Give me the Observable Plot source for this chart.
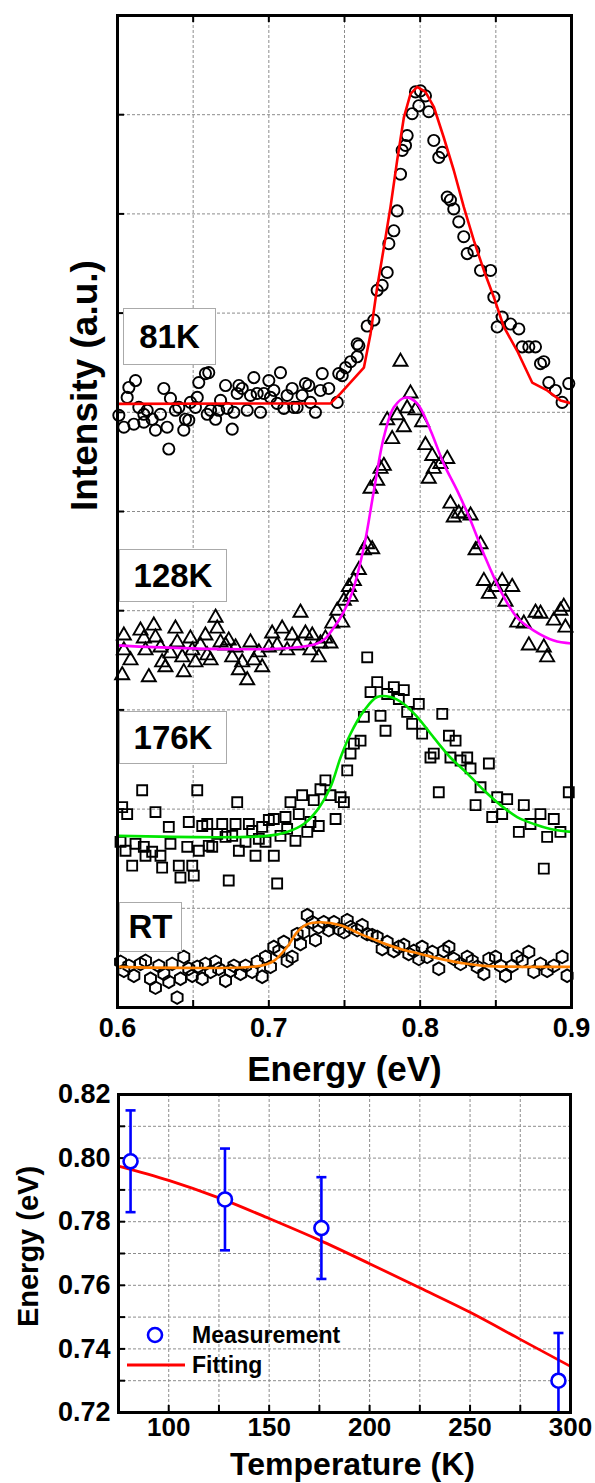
<!DOCTYPE html>
<html><head><meta charset="utf-8">
<script src="https://cdn.jsdelivr.net/npm/d3@7"></script>
<script src="https://cdn.jsdelivr.net/npm/@observablehq/plot@0.6"></script>
<style>
body{margin:0;background:#fff;}
#wrap{position:relative;width:595px;height:1483px;font-family:"Liberation Sans",Arial,Helvetica,sans-serif;overflow:hidden;}
#wrap svg.plt{position:absolute;left:0;}
.lbl{position:absolute;background:#fff;border:1.5px solid #aaa;font-weight:bold;font-size:33px;display:flex;align-items:center;justify-content:center;box-sizing:border-box;color:#000;}
.leg{position:absolute;left:126px;font-weight:bold;font-size:23px;color:#000;}
.leg div{display:flex;align-items:center;height:30px;}
.leg svg{margin-right:6px;}
</style></head><body><div id="wrap"></div>
<script>
// ---------- Top panel: PL spectra (intensity in arbitrary units, stacked) ----------
const energyTicks = [0.6, 0.7, 0.8, 0.9];
const energyGrid = [0.65, 0.7, 0.75, 0.8, 0.85];
const intensityGrid = [1, 2, 3, 4, 5, 6, 7, 8, 9];
const seriesLabels = ["81K", "128K", "176K", "RT"];

const e81 = [0.6009,0.6042,0.6064,0.6075,0.6119,0.6108,0.6141,0.6174,0.6174,0.6196,0.6229,0.6251,0.6284,0.6306,0.6328,0.6339,0.6350,0.6383,0.6405,0.6438,0.6449,0.6471,0.6482,0.6515,0.6527,0.6537,0.6581,0.6603,0.6593,0.6615,0.6648,0.6669,0.6681,0.6714,0.6725,0.6758,0.6769,0.6791,0.6802,0.6824,0.6857,0.6879,0.6901,0.6923,0.6945,0.6967,0.7000,0.7011,0.7033,0.7055,0.7077,0.7099,0.7121,0.7154,0.7165,0.7187,0.7220,0.7242,0.7264,0.7275,0.7308,0.7341,0.7353,0.7396,0.7452,0.7462,0.7485,0.7507,0.7540,0.7584,0.7584,
 0.7595,0.7650,0.7694,0.7716,0.7749,0.7782,0.7793,0.7826,0.7848,0.7870,0.7881,0.7903,0.7914,0.7947,0.7969,0.8002,0.8035,0.7991,0.8057,0.8090,0.8146,0.8123,0.8179,0.8200,0.8222,0.8255,0.8288,0.8311,0.8355,0.8399,0.8465,0.8487,0.8509,0.8542,0.8597,0.8652,0.8674,0.8718,0.8762,0.8795,0.8817,0.8850,0.8894,0.8938,0.8982];
const i81 = [5.97,5.85,6.15,6.25,6.32,5.88,6.05,5.98,5.90,6.02,5.93,5.82,5.98,6.24,5.85,5.63,6.14,6.02,6.05,5.82,5.93,5.92,6.10,6.05,6.15,6.30,6.39,6.40,5.98,6.02,5.93,6.02,6.12,6.27,6.04,5.83,6.00,6.19,6.27,6.24,6.02,6.17,6.35,6.19,6.00,6.19,6.32,6.15,6.22,6.09,6.40,6.04,6.17,6.24,6.05,6.05,6.17,6.29,6.27,6.10,6.00,6.22,6.39,6.24,6.10,6.39,6.37,6.45,6.51,6.56,6.69,
 6.67,6.87,6.93,7.23,7.28,7.41,7.70,7.83,8.03,8.40,8.64,8.69,8.79,9.01,9.23,9.24,9.19,9.09,9.03,8.74,8.62,8.57,8.17,8.14,8.05,7.92,7.77,7.60,7.63,7.43,7.43,7.16,6.86,6.96,6.89,6.84,6.66,6.66,6.66,6.49,6.51,6.30,6.22,6.10,6.29];
const fitE81 = [0.6,0.7408,0.7474,0.7628,0.7672,0.7716,0.7760,0.7804,0.7848,0.7892,0.7936,0.7980,0.8035,0.8090,0.8156,0.8222,0.8288,0.8355,0.8421,0.8487,0.8553,0.8641,0.8740,0.8839,0.8927,0.9];
const fitI81 = [6.085,6.09,6.19,6.45,6.79,7.26,7.66,8.07,8.54,8.97,9.21,9.28,9.23,9.08,8.77,8.44,8.07,7.73,7.43,7.16,6.86,6.62,6.30,6.22,6.12,6.09];

const e128 = [0.6042,0.6042,0.6031,0.6086,0.6152,0.6174,0.6185,0.6207,0.6240,0.6251,0.6284,0.6295,0.6317,0.6350,0.6383,0.6395,0.6428,0.6438,0.6482,0.6494,0.6515,0.6548,0.6581,0.6593,0.6615,0.6648,0.6659,0.6681,0.6714,0.6735,0.6758,0.6780,0.6802,0.6824,0.6857,0.6879,0.6901,0.6934,0.6956,0.7000,0.7022,0.7055,0.7088,0.7121,0.7154,0.7187,0.7209,0.7242,0.7275,0.7287,0.7330,0.7341,0.7374,0.7407,0.7419,0.7452,0.7485,0.7496,0.7529,
 0.7540,0.7562,0.7595,0.7628,0.7650,0.7683,0.7672,0.7716,0.7738,0.7760,0.7782,0.7815,0.7848,0.7870,0.7892,0.7914,0.7936,0.7969,0.8013,0.8035,0.8080,0.8090,0.8057,0.8134,0.8179,0.8200,0.8222,0.8255,0.8288,0.8333,0.8366,0.8399,0.8421,0.8454,0.8498,0.8542,0.8564,0.8608,0.8641,0.8685,0.8718,0.8762,0.8795,0.8817,0.8839,0.8883,0.8927,0.8949,0.8960];
const i128 = [3.75,3.60,3.35,3.50,3.80,3.72,3.60,3.33,3.85,3.73,3.63,3.48,3.43,3.57,3.82,3.68,3.53,3.38,3.72,3.60,3.48,3.65,3.75,3.55,3.50,3.93,3.82,3.68,3.65,3.70,3.53,3.63,3.40,3.48,3.30,3.68,3.50,3.58,3.43,3.63,3.77,3.65,3.82,3.60,3.75,3.65,3.98,3.77,3.60,3.75,3.53,3.67,3.72,3.67,3.87,4.00,3.88,4.10,4.24,
 4.14,4.30,4.41,4.61,4.67,4.62,5.23,5.31,5.43,5.46,5.92,5.73,5.97,6.51,5.85,6.04,6.19,6.02,5.90,5.67,5.56,5.43,5.33,5.48,5.53,5.08,4.94,4.98,4.98,4.96,4.61,4.67,4.30,4.17,4.24,4.30,4.09,4.24,3.88,3.87,3.65,3.98,3.97,3.63,3.53,3.90,4.00,4.04,3.83];
const fitE128 = [0.6,0.7320,0.7430,0.7540,0.7628,0.7694,0.7760,0.7826,0.7903,0.7980,0.8068,0.8156,0.8245,0.8333,0.8421,0.8531,0.8641,0.8751,0.8883,0.9];
const fitI128 = [3.65,3.67,3.83,4.14,4.64,5.21,5.75,6.05,6.15,6.09,5.82,5.48,5.21,4.91,4.57,4.20,3.93,3.80,3.70,3.67];

const e176 = [0.6031,0.6064,0.6163,0.6020,0.6053,0.6097,0.6119,0.6174,0.6185,0.6229,0.6251,0.6284,0.6295,0.6339,0.6350,0.6405,0.6416,0.6461,0.6471,0.6494,0.6504,0.6527,0.6537,0.6560,0.6593,0.6603,0.6626,0.6659,0.6692,0.6714,0.6735,0.6758,0.6780,0.6791,0.6802,0.6846,0.6868,0.6890,0.6912,0.6934,0.6956,0.6978,0.7000,0.7033,0.7055,0.7033,0.7077,0.7110,0.7121,0.7143,0.7176,0.7198,0.7220,0.7254,0.7275,0.7297,0.7330,0.7341,0.7374,0.7407,0.7441,0.7474,0.7496,0.7518,
 0.7540,0.7562,0.7606,0.7628,0.7650,0.7672,0.7716,0.7738,0.7771,0.7782,0.7826,0.7859,0.7892,0.7914,0.7947,0.7991,0.8013,0.8068,0.8090,0.8123,0.8146,0.8190,0.8200,0.8234,0.8267,0.8311,0.8333,0.8366,0.8399,0.8454,0.8476,0.8509,0.8542,0.8575,0.8652,0.8685,0.8729,0.8795,0.8817,0.8839,0.8883,0.8927,0.8982];
const i176 = [2.02,1.95,2.19,1.67,1.58,1.43,1.65,1.62,1.53,1.57,1.97,1.53,1.41,1.82,1.65,1.43,1.31,1.62,1.87,1.43,1.33,2.19,1.58,1.83,1.85,1.63,1.62,1.75,1.85,1.72,1.28,1.73,1.85,2.07,1.58,1.67,1.85,1.78,1.53,1.70,1.82,1.67,1.89,1.53,1.25,1.90,1.73,1.92,1.80,2.07,1.68,1.95,2.14,1.77,1.87,2.09,1.83,2.20,2.29,2.14,1.90,2.12,2.07,2.39,
 2.56,2.66,2.69,2.93,3.53,3.18,3.28,2.94,2.79,3.16,3.23,3.11,3.20,2.98,2.86,3.06,2.76,2.52,2.56,2.17,2.96,2.74,2.52,2.69,2.49,2.52,2.41,2.04,2.22,2.46,1.92,2.12,1.95,2.10,1.77,2.04,1.85,1.95,1.40,1.72,1.90,1.77,2.17];
const fitE176 = [0.6,0.6989,0.7121,0.7231,0.7320,0.7407,0.7474,0.7540,0.7628,0.7716,0.7804,0.7892,0.7980,0.8090,0.8200,0.8311,0.8421,0.8531,0.8641,0.8751,0.8861,0.9];
const fitI176 = [1.73,1.73,1.77,1.85,1.99,2.22,2.52,2.76,2.99,3.13,3.13,3.06,2.93,2.72,2.52,2.36,2.19,2.04,1.92,1.85,1.80,1.77];

const eRT = [0.6020,0.6042,0.6075,0.6108,0.6152,0.6185,0.6218,0.6251,0.6273,0.6306,0.6339,0.6361,0.6394,0.6416,0.6438,0.6471,0.6494,0.6527,0.6560,0.6581,0.6615,0.6648,0.6669,0.6714,0.6747,0.6769,0.6813,0.6846,0.6890,0.6923,0.6956,0.6978,0.7011,0.7033,0.7066,0.7099,0.7121,0.7154,0.7187,0.7209,0.7231,0.7254,0.7287,0.7308,0.7330,0.7363,0.7396,0.7430,0.7462,0.7496,0.7518,0.7540,0.7584,0.7617,0.7650,0.7683,0.7716,0.7749,0.7782,0.7826,0.7859,0.7892,0.7925,0.7958,0.7991,0.8013,0.8046,0.8080,0.8123,0.8156,0.8190,0.8222,0.8267,0.8311,0.8344,0.8377,0.8421,0.8454,0.8498,0.8531,0.8564,0.8608,0.8641,0.8674,0.8718,0.8751,0.8795,0.8839,0.8883,0.8938,0.8971];
const iRT = [0.46,0.37,0.42,0.32,0.44,0.47,0.29,0.20,0.42,0.34,0.26,0.44,0.10,0.29,0.51,0.39,0.32,0.41,0.29,0.44,0.36,0.46,0.39,0.27,0.37,0.42,0.34,0.42,0.36,0.46,0.31,0.51,0.41,0.61,0.57,0.66,0.47,0.51,0.74,0.64,0.76,0.93,0.86,0.68,0.81,0.86,0.78,0.86,0.79,0.76,0.88,0.81,0.78,0.83,0.74,0.73,0.71,0.59,0.66,0.57,0.61,0.63,0.54,0.57,0.49,0.61,0.51,0.56,0.39,0.57,0.61,0.49,0.44,0.51,0.47,0.41,0.34,0.49,0.51,0.42,0.32,0.42,0.51,0.47,0.56,0.36,0.44,0.37,0.42,0.51,0.32];
const fitERT = [0.6,0.6945,0.7033,0.7121,0.7187,0.7254,0.7341,0.7474,0.7606,0.7738,0.7870,0.8002,0.8134,0.8267,0.8421,0.9];
const fitIRT = [0.41,0.42,0.47,0.61,0.76,0.84,0.86,0.83,0.74,0.66,0.59,0.54,0.49,0.45,0.42,0.41];

// ---------- Bottom panel: peak energy vs temperature ----------
const tempTicks = [100, 150, 200, 250, 300];
const tempGrid = [100, 125, 150, 175, 200, 225, 250, 275];
const peTicks = [0.72, 0.74, 0.76, 0.78, 0.80, 0.82];
const peGrid = [0.73, 0.74, 0.75, 0.76, 0.77, 0.78, 0.79, 0.80, 0.81];
const measT = [81, 128, 176, 294];
const measE = [0.799, 0.787, 0.778, 0.730];
const measErr = [0.016, 0.016, 0.016, 0.015];
const fitT = [75, 100, 125, 150, 175, 200, 225, 250, 275, 300];
const fitPE = [0.7975, 0.7930, 0.7875, 0.7810, 0.7742, 0.7668, 0.7592, 0.7515, 0.7430, 0.7345];

// ---------- build ----------
const zip = (xs, ys) => xs.map((x, k) => ({x, y: ys[k]}));
const FONT = "'Liberation Sans', Arial, Helvetica, sans-serif";
const gridStyle = {stroke: "#8c8c8c", strokeOpacity: 1, strokeWidth: 1, strokeDasharray: "3,2"};
const scatter = (xs, ys, symbol, r) => Plot.dot(zip(xs, ys), {x: "x", y: "y", symbol, r, stroke: "#000", strokeWidth: 1.9, fill: "none"});
const fitLine = (xs, ys, color, curve) => Plot.line(zip(xs, ys), {x: "x", y: "y", stroke: color, strokeWidth: 2.6, curve});

const W = 595;
const topH = 1100, tMT = 15, tMB = 93, tML = 117, tMR = 24;
const tFH = topH - tMT - tMB, tFW = W - tML - tMR;
const topPlot = Plot.plot({
  width: W, height: topH,
  marginTop: tMT, marginBottom: tMB, marginLeft: tML, marginRight: tMR,
  style: {background: "transparent", fontFamily: FONT, fontSize: "27px", fontWeight: "bold", color: "#000", overflow: "visible"},
  x: {domain: [0.6, 0.9], axis: null},
  y: {domain: [0, 10], axis: null},
  marks: [
    Plot.gridX(energyGrid, gridStyle),
    Plot.gridY(intensityGrid, gridStyle),
    Plot.tickX(energyGrid, {x: d => d, insetTop: tFH - 7, strokeWidth: 2}),
    Plot.tickX(energyGrid, {x: d => d, insetBottom: tFH - 7, strokeWidth: 2}),
    Plot.tickY(intensityGrid, {y: d => d, insetRight: tFW - 7, strokeWidth: 2}),
    scatter(eRT, iRT, "hexagon", 5.5),
    scatter(e176, i176, "square", 5.6),
    scatter(e128, i128, "triangle", 5.2),
    scatter(e81, i81, "circle", 5.6),
    fitLine(fitERT, fitIRT, "#ff8000", "catmull-rom"),
    fitLine(fitE176, fitI176, "#00e600", "catmull-rom"),
    fitLine(fitE128, fitI128, "#ff00ff", "catmull-rom"),
    fitLine(fitE81, fitI81, "#ff0000", "linear"),
    Plot.frame({stroke: "#000", strokeWidth: 3}),
    Plot.axisX({ticks: energyTicks, tickSize: 0, tickPadding: 10, tickFormat: d3.format(".1f"), label: null, fontSize: 27}),
    Plot.text(["Energy (eV)"], {text: d => d, frameAnchor: "bottom", textAnchor: "middle", lineAnchor: "middle", dy: 62, fontSize: 35, fontWeight: "bold"}),
    Plot.text(["Intensity (a.u.)"], {text: d => d, frameAnchor: "left", textAnchor: "middle", lineAnchor: "middle", dx: -32, dy: -126, rotate: -90, fontSize: 37, fontWeight: "bold"})
  ]
});
topPlot.classList.add("plt");
topPlot.style.top = "0px";

const botTop = 1070, botH = 413, bMT = 24, bMB = 71, bML = 118, bMR = 25;
const bFH = botH - bMT - bMB, bFW = W - bML - bMR;
const meas = measT.map((T, k) => ({T, E: measE[k], err: measErr[k]}));
const botPlot = Plot.plot({
  width: W, height: botH,
  marginTop: bMT, marginBottom: bMB, marginLeft: bML, marginRight: bMR,
  style: {background: "transparent", fontFamily: FONT, fontSize: "27px", fontWeight: "bold", color: "#000", overflow: "visible"},
  x: {domain: [75, 300], axis: null},
  y: {domain: [0.72, 0.82], axis: null},
  marks: [
    Plot.gridX(tempGrid, gridStyle),
    Plot.gridY(peGrid, gridStyle),
    Plot.tickX(tempGrid, {x: d => d, insetTop: bFH - 7, strokeWidth: 2}),
    Plot.tickY(peGrid, {y: d => d, insetRight: bFW - 7, strokeWidth: 2}),
    Plot.line(zip(fitT, fitPE), {x: "x", y: "y", stroke: "#ff0000", strokeWidth: 2.8, curve: "catmull-rom"}),
    Plot.ruleX(meas, {x: "T", y1: d => d.E - d.err, y2: d => d.E + d.err, stroke: "#0000ff", strokeWidth: 2.6, clip: true}),
    Plot.link(meas, {x1: d => d.T - 2.5, x2: d => d.T + 2.5, y1: d => d.E + d.err, y2: d => d.E + d.err, stroke: "#0000ff", strokeWidth: 2.6, clip: true}),
    Plot.link(meas, {x1: d => d.T - 2.5, x2: d => d.T + 2.5, y1: d => d.E - d.err, y2: d => d.E - d.err, stroke: "#0000ff", strokeWidth: 2.6, clip: true}),
    Plot.dot(meas, {x: "T", y: "E", r: 7, stroke: "#0000ff", strokeWidth: 2.6, fill: "#fff"}),
    Plot.frame({stroke: "#000", strokeWidth: 3}),
    Plot.axisX({ticks: tempTicks, tickSize: 0, tickPadding: 5, tickFormat: d3.format("d"), label: null, fontSize: 26}),
    Plot.axisY({ticks: peTicks, tickSize: 0, tickPadding: 8, tickFormat: d3.format(".2f"), label: null, fontSize: 27}),
    Plot.text(["Temperature (K)"], {text: d => d, frameAnchor: "bottom", textAnchor: "middle", lineAnchor: "middle", dx: 8, dy: 52, fontSize: 32, fontWeight: "bold"}),
    Plot.text(["Energy (eV)"], {text: d => d, frameAnchor: "left", textAnchor: "middle", lineAnchor: "middle", dx: -90, dy: -7, rotate: -90, fontSize: 29, fontWeight: "bold"})
  ]
});
botPlot.classList.add("plt");
botPlot.style.top = botTop + "px";

const wrap = document.getElementById("wrap");
wrap.appendChild(topPlot);
wrap.appendChild(botPlot);

// sample labels (boxes)
const boxes = [
  {left: 123, top: 308, w: 93, h: 57},
  {left: 119, top: 549, w: 108, h: 53},
  {left: 119, top: 711, w: 108, h: 53},
  {left: 119, top: 902, w: 63, h: 50}
];
seriesLabels.forEach((t, k) => {
  const b = boxes[k];
  const d = document.createElement("div");
  d.className = "lbl";
  d.style.cssText = `left:${b.left}px;top:${b.top}px;width:${b.w}px;height:${b.h}px;`;
  d.textContent = t;
  wrap.appendChild(d);
});

// legend
const leg = document.createElement("div");
leg.className = "leg";
leg.style.top = "1320px";
leg.innerHTML = `<div><svg width="60" height="30"><circle cx="29" cy="15" r="7" fill="#fff" stroke="#0000ff" stroke-width="2.6"/></svg><span>Measurement</span></div>
<div><svg width="60" height="30"><line x1="1" x2="59" y1="15" y2="15" stroke="#ff0000" stroke-width="3"/></svg><span>Fitting</span></div>`;
wrap.appendChild(leg);
</script></body></html>
